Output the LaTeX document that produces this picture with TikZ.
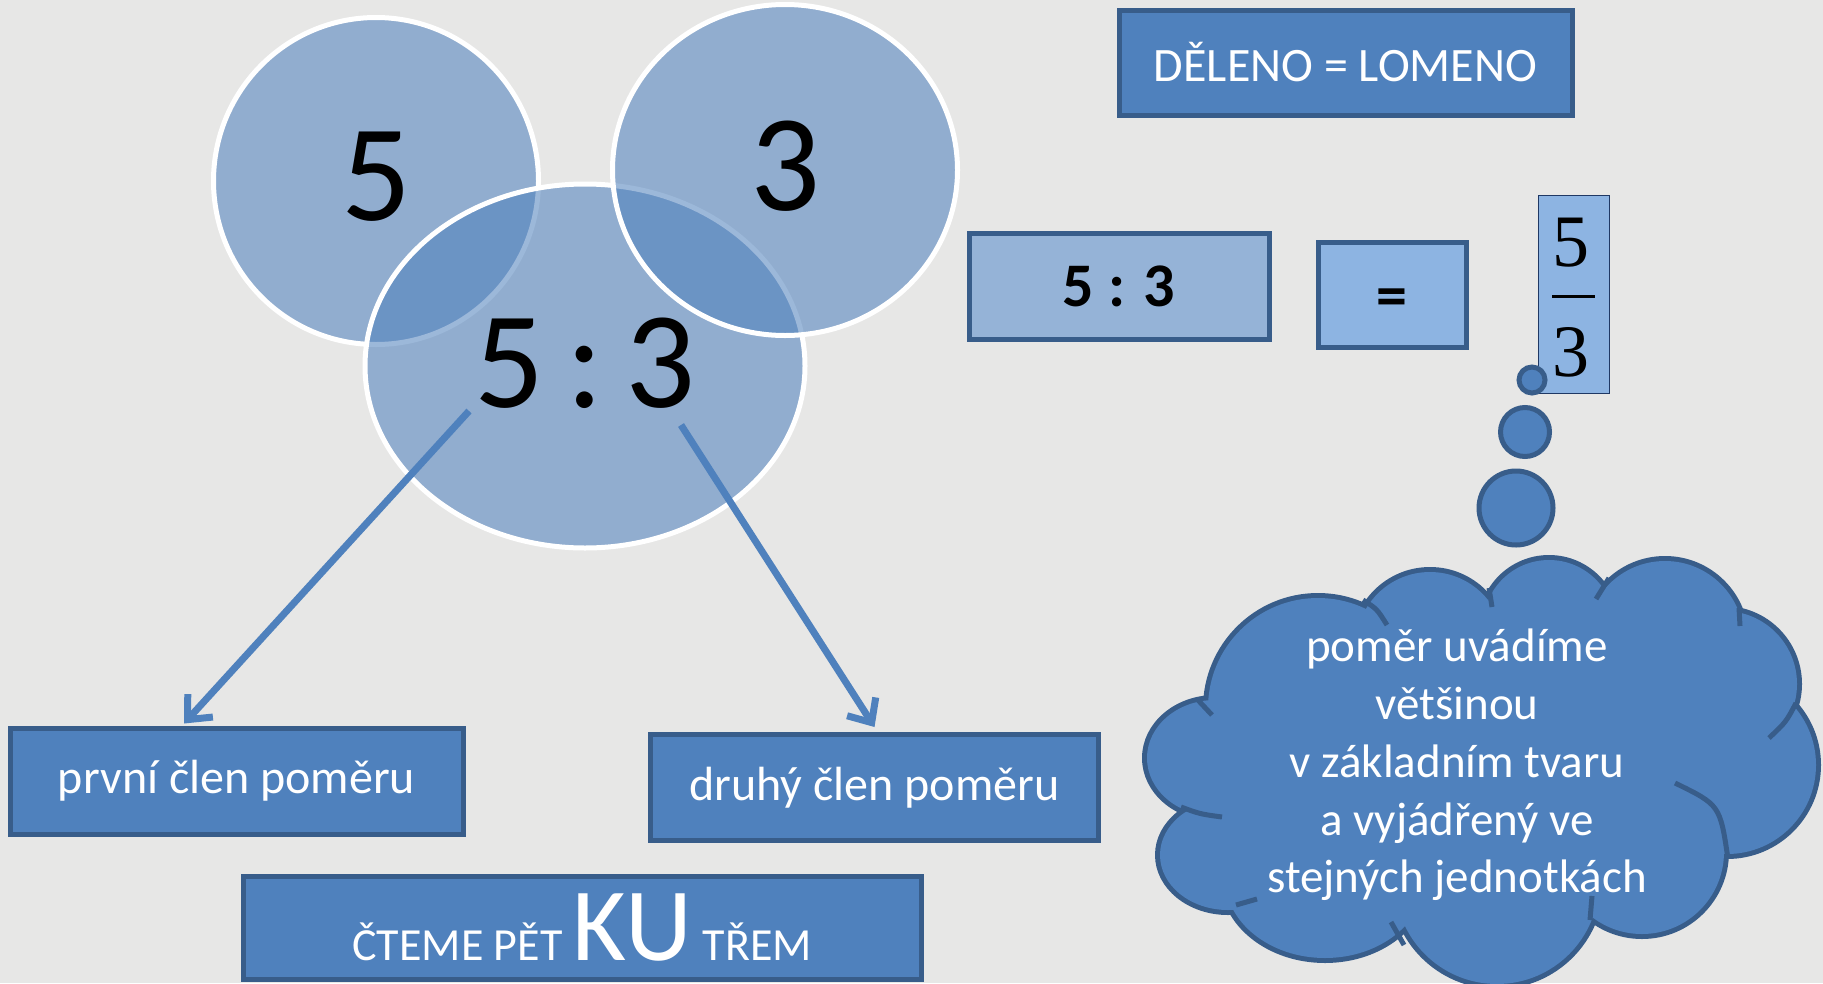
\documentclass[tikz,border=0pt]{standalone}
\usepackage{fontspec}
\setmainfont{Carlito}
\newfontfamily\fracfont{Liberation Serif}
\usepackage{tikz}
\usetikzlibrary{arrows.meta,
                positioning,
                shapes.geometric}
\definecolor{paper}{RGB}{231,231,230}
\definecolor{slide}{RGB}{79,129,189}
\definecolor{slideline}{RGB}{56,93,138}
\definecolor{paleblue}{RGB}{149,179,215}
\definecolor{skyblue}{RGB}{141,180,226}
\definecolor{navy}{RGB}{31,56,100}
\tikzstyle{venn} = [ellipse, inner sep=0pt, fill=slide, fill opacity=0.56, draw=white, line width=5pt]
\tikzstyle{bignum} = [inner sep=0pt, font=\fontsize{138}{150}\selectfont]
\tikzstyle{bluebox} = [rectangle, inner sep=0pt, fill=slide, draw=slideline, line width=5pt, text=white, font=\fontsize{48}{58}\selectfont]
\tikzstyle{palebox} = [rectangle, inner sep=0pt, draw=slideline, line width=5pt, font=\bfseries\fontsize{62}{70}\selectfont]
\tikzstyle{fracdigit} = [inner sep=0pt, font=\fracfont\fontsize{74}{80}\selectfont]
\tikzstyle{arrow} = [draw=slide, line width=7pt, -{Straight Barb[length=19pt,width=34pt]}]
\tikzstyle{bubble} = [circle, inner sep=0pt, fill=slide, draw=slideline, line width=5pt]
\tikzstyle{lobe} = [fill=slide, draw=slideline, line width=10pt]
\tikzstyle{crease} = [slideline, line width=5pt]

\begin{document}
\begin{tikzpicture}[x=1pt, y=-1pt]

    \useasboundingbox (0,0) rectangle (1823,983);
    \fill[paper] (0,0) rectangle (1823,983);

    % the three ellipses
    \node[venn, minimum width=325pt, minimum height=327pt] (first) at (376,181) {};
    \node[venn, minimum width=440pt, minimum height=364pt] (ratio) at (585,366) {};
    \node[venn, minimum width=345pt, minimum height=331pt] (second) at (785,170) {};
    \node[bignum] (five) at (376,177) {5};
    \node[bignum] (three) at (785,166) {3};
    \node[bignum] (fivethree) at (585,363) {5\hspace{22pt}:\hspace{22pt}3};

    % boxes
    \node[bluebox, minimum width=453pt, minimum height=105pt] (deleno) at (1345.5,62.5) {DĚLENO = LOMENO};
    \node[palebox, fill=paleblue, minimum width=300pt, minimum height=106pt] (pomer) at (1119,286) {5 : 3};
    \node[palebox, fill=skyblue, minimum width=148pt, minimum height=105pt, text height=43pt, text depth=0pt] (eq) [right=44pt of pomer, yshift=-8.5pt] {=};
    \node[rectangle, fill=skyblue, draw=navy, line width=1.8pt, minimum width=71pt, minimum height=198pt] (frac) [right=69pt of eq] {};
    \node[fracdigit] (num) at (1571,243) {5};
    \node[fracdigit] (den) at (1571,352.5) {3};
    \draw[line width=3pt] ([xshift=-21.5pt,yshift=-2pt]frac.center) -- ([xshift=21.5pt,yshift=-2pt]frac.center);

    \node[bluebox, minimum width=453pt, minimum height=106pt] (prvni) at (236.5,781) {první člen poměru};
    \node[bluebox, minimum width=448pt, minimum height=106pt] (druhy) at (874.5,787.5) {druhý člen poměru};
    \node[bluebox, minimum width=678pt, minimum height=103pt, font=\fontsize{46}{58}\selectfont] (cteme) at (582,927.5) {ČTEME PĚT {\fontsize{104}{110}\selectfont KU} TŘEM};

    \coordinate (firststart) at (469,411);
    \coordinate (secondstart) at (681,425);
    \draw [arrow] (firststart) -- ([xshift=-52.5pt,yshift=2pt]prvni.north);
    \draw [arrow] (secondstart) -- ([yshift=5pt]druhy.north);

    % cloud
    \foreach \cx/\cy/\rx/\ry in {1318/708/110/110, 1430/646/74/74, 1549/626/66/66,
        1665/640/79/79, 1724/684/73/73, 1727/765/89/89, 1642/852/82/82,
        1497/882/102/102, 1325/878/100/80, 1228/855/68/55, 1215/758/68/58}
        \draw[lobe] (\cx,\cy) ellipse [x radius=\rx, y radius=\ry];
    \foreach \cx/\cy/\rx/\ry in {1318/708/110/110, 1430/646/74/74, 1549/626/66/66,
        1665/640/79/79, 1724/684/73/73, 1727/765/89/89, 1642/852/82/82,
        1497/882/102/102, 1325/878/100/80, 1228/855/68/55, 1215/758/68/58,
        1470/770/230/150}
        \fill[slide] (\cx,\cy) ellipse [x radius=\rx, y radius=\ry];
    \draw[crease] (1197,699) -- (1212,715);
    \draw[crease] (1363,600) .. controls (1377,609) .. (1387,625);
    \draw[crease] (1489,588) -- (1492,607);
    \draw[crease] (1609,578) -- (1596,599);
    \draw[crease] (1739,608) -- (1740,626);
    \draw[crease] (1796,703) .. controls (1786,722) .. (1769,738);
    \draw[crease] (1675,783) .. controls (1720,805) .. (1728,859);
    \draw[crease] (1592,896) -- (1590,920);
    \draw[crease] (1391,922) -- (1404,945);
    \draw[crease] (1236,905) -- (1257,899);
    \draw[crease] (1181,807) .. controls (1200,814) .. (1222,817);
    \node[inner sep=0pt, align=center, text=white, font=\fontsize{47}{57.7}\selectfont] (note) at (1457,765) {poměr uvádíme\\většinou\\v základním tvaru\\a vyjádřený ve\\stejných jednotkách};

    % thought bubbles
    \node[bubble, minimum size=74pt] (bigbubble) at (1516,508) {};
    \node[bubble, minimum size=49pt] (midbubble) at (1525,432) {};
    \node[bubble, minimum size=26pt] (smallbubble) at (1532,380) {};

\end{tikzpicture}
\end{document}
